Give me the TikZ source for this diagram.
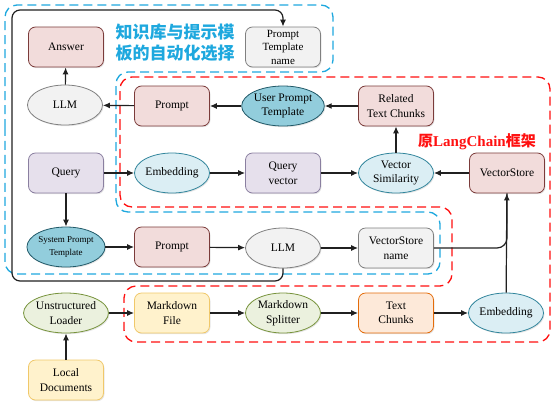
\documentclass[tikz,border=0pt]{standalone}
\usepackage{fontspec}
\setmainfont{Liberation Serif}
\newfontfamily\cjk{Noto Sans CJK SC}
\usetikzlibrary{shapes.geometric,arrows.meta,shadows}
\definecolor{pinkF}{HTML}{F2DCDB}\definecolor{pinkD}{HTML}{7B3B3A}
\definecolor{grayF}{HTML}{F2F2F2}\definecolor{grayD}{HTML}{808080}
\definecolor{lavF}{HTML}{E6E0EC}\definecolor{lavD}{HTML}{8A7FA0}
\definecolor{lbF}{HTML}{DBEEF4}\definecolor{lbD}{HTML}{31859C}
\definecolor{tealF}{HTML}{92CDDC}\definecolor{tealD}{HTML}{215968}
\definecolor{grnF}{HTML}{EBF1DE}\definecolor{grnD}{HTML}{77933C}
\definecolor{yelF}{HTML}{FFF2CC}\definecolor{yelD}{HTML}{F0C86A}
\definecolor{orF}{HTML}{FDE9D9}\definecolor{orD}{HTML}{E46C0A}
\definecolor{frblue}{HTML}{1EA8DE}
\definecolor{frred}{HTML}{FF1010}
\definecolor{ln}{HTML}{202020}
\begin{document}
\begin{tikzpicture}[x=1pt,y=-1pt,
  font=\fontsize{11.5}{14.5}\selectfont,
  shade/.style={drop shadow={opacity=0.2,shadow xshift=1pt,shadow yshift=-1.2pt}},
  box/.style={rounded corners=7pt,minimum width=75pt,minimum height=40pt,align=center,inner sep=1pt,line width=0.8pt,shade},
  ell/.style={ellipse,minimum width=75pt,minimum height=40pt,inner sep=0pt,align=center,line width=0.8pt,shade},
  pinkbox/.style={box,fill=pinkF,draw=pinkD},
  graybox/.style={box,fill=grayF,draw=grayD},
  lavbox/.style={box,fill=lavF,draw=lavD},
  yelbox/.style={box,fill=yelF,draw=yelD},
  orbox/.style={box,fill=orF,draw=orD},
  grayell/.style={ell,fill=grayF,draw=grayD},
  lbell/.style={ell,fill=lbF,draw=lbD},
  tealell/.style={ell,fill=tealF,draw=tealD},
  grnell/.style={ell,fill=grnF,draw=grnD},
  arr/.style={-{Latex[length=7pt,width=6pt]},line width=1.2pt,draw=ln},
  plain/.style={line width=1.2pt,draw=ln},
  bluefr/.style={draw=frblue,line width=1.3pt,dash pattern=on 9pt off 5pt,rounded corners=12pt},
  redfr/.style={draw=frred,line width=1.3pt,dash pattern=on 9pt off 5pt,rounded corners=12pt}]
\useasboundingbox (0,0) rectangle (556,410);

% frames
\draw[bluefr] (5,140) -- (5,5) -- (333,5) -- (333,72) -- (116,72) -- (116,212) -- (440,212) -- (440,274) -- (5,274) -- cycle;
\draw[redfr] (120,140) -- (120,77) -- (550,77) -- (550,342) -- (124,342) -- (124,286) -- (452,286) -- (452,207) -- (120,207) -- cycle;

% nodes
\node[pinkbox] (ans) at (66,47) {Answer};
\node[graybox,font=\fontsize{11}{13.5}\selectfont] (ptn) at (283,47) {Prompt\\Template\\name};
\node[grayell] (llm1) at (65,105) {LLM};
\node[pinkbox] (pr1) at (172,106) {Prompt};
\node[tealell] (upt) at (283,106) {User Prompt\\Template};
\node[pinkbox] (rtc) at (396,106) {Related\\Text Chunks};
\node[lavbox] (q) at (66,173) {Query};
\node[lbell] (emb1) at (172,173) {Embedding};
\node[lavbox] (qv) at (283,173) {Query\\vector};
\node[lbell] (vsim) at (396,173) {Vector\\Similarity};
\node[pinkbox] (vs) at (507,173) {VectorStore};
\node[tealell,font=\fontsize{9}{12.5}\selectfont] (spt) at (66,247) {System Prompt\\Template};
\node[pinkbox] (pr2) at (172,247) {Prompt};
\node[grayell] (llm2) at (283,248) {LLM};
\node[graybox] (vsn) at (396,248) {VectorStore\\name};
\node[grnell] (ul) at (66,313) {Unstructured\\Loader};
\node[yelbox] (ld) at (66,380) {Local\\Documents};
\node[yelbox] (mf) at (172,313) {Markdown\\File};
\node[grnell] (ms) at (283,313) {Markdown\\Splitter};
\node[orbox] (tc) at (396,313) {Text\\Chunks};
\node[lbell] (emb2) at (506,313) {Embedding};

% labels
\node[text=frblue,font=\cjk\bfseries\fontsize{17}{21}\selectfont,align=left,inner sep=0pt] (zh) at (175,43) {知识库与提示模\\板的自动化选择};
\node[text=frred,font=\bfseries\fontsize{15}{18}\selectfont,inner sep=0pt] (lc) at (477,142) {{\cjk\bfseries 原}LangChain{\cjk\bfseries 框架}};

% connectors
\draw[arr] (llm1) -- (ans);
\draw[arr] (pr1) -- (llm1);
\draw[arr] (upt) -- (pr1);
\draw[arr] (rtc) -- (upt);
\draw[arr] (vsim) -- (rtc);
\draw[arr] (q) -- (emb1);
\draw[arr] (emb1) -- (qv);
\draw[arr] (qv) -- (vsim);
\draw[arr] (vs) -- (vsim);
\draw[arr] (q) -- (spt);
\draw[arr] (spt) -- (pr2);
\draw[arr] (pr2) -- (llm2);
\draw[arr] (llm2) -- (vsn);
\draw[plain,rounded corners=10pt] (vsn.east) -| (vs.south);
\draw[arr] (emb2) -- (vs);
\draw[arr] (ld) -- (ul);
\draw[arr] (ul) -- (mf);
\draw[arr] (mf) -- (ms);
\draw[arr] (ms) -- (tc);
\draw[arr] (tc) -- (emb2);
\coordinate (b1) at (283,281);
\coordinate (b2) at (12,281);
\coordinate (b3) at (12,10);
\coordinate (b4) at (283,10);
\draw[arr,rounded corners=8pt] (llm2.south) -- (b1) -- (b2) -- (b3) -- (b4) -- (ptn.north);
\end{tikzpicture}
\end{document}
